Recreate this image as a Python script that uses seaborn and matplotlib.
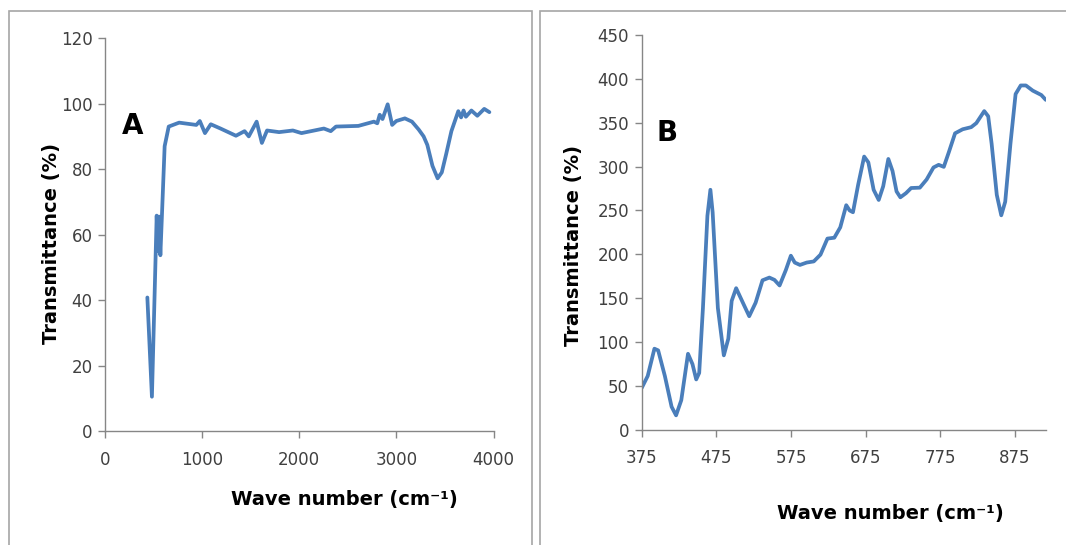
import numpy as np
import seaborn as sns
import matplotlib.pyplot as plt
from matplotlib.patches import Rectangle

# ---- panel A : full FTIR spectrum ----
wave_a = [436, 483, 532, 545, 557, 570, 585, 614, 656, 763, 940, 976, 1029, 1089, 1189,
          1348, 1437, 1480, 1561, 1615, 1668, 1792, 1934, 2023, 2253, 2324, 2378, 2608,
          2768, 2803, 2828, 2857, 2910, 2956, 2999, 3087, 3160, 3229, 3280, 3318, 3371,
          3424, 3467, 3513, 3566, 3609, 3637, 3666, 3691, 3715, 3772, 3833, 3904, 3957]
trans_a = [40.8, 10.5, 65.8, 55, 65.5, 53.7, 65, 87, 93, 94.2, 93.5, 94.7, 91, 93.7, 92.4,
           90.2, 91.6, 90, 94.5, 88, 91.8, 91.3, 91.8, 91, 92.4, 91.6, 93, 93.2,
           94.5, 94, 96.6, 95.3, 99.8, 93.5, 94.7, 95.5, 94.5, 92.1, 90, 87.4, 81,
           77.2, 79, 84.7, 91.6, 95.3, 97.7, 95.8, 97.9, 96, 97.9, 96.3, 98.4, 97.4]

# ---- panel B : low wave number region ----
wave_b = [375, 383, 392, 397, 406, 415, 421, 428, 437, 443, 448, 452, 457, 463, 467, 470,
          477, 485, 491, 495.5, 501.5, 511.6, 519, 527.6, 536.8, 546, 552.8, 559.7, 568,
          574.8, 580, 587, 596, 605.5, 614.5, 623.8, 633, 641, 649, 653.6, 658, 665, 673,
          678.6, 685.7, 692.5, 698.5, 705.4, 711, 716.4, 721.5, 729, 736, 747.6, 756.7,
          765.9, 772.8, 779.7, 786.5, 794.8, 805, 816.4, 823.3, 833.9, 839.2, 843.8,
          850.7, 856.7, 862, 869, 875.9, 882.8, 889.7, 898.9, 910.4, 916.3]
trans_b = [47.9, 61.5, 92.6, 90.7, 61.5, 26.5, 16.7, 34, 86.8, 75, 57.6, 65, 139, 244,
           273.6, 248, 139, 85, 104, 147, 161.5, 143, 129.6, 145, 170.5, 173.6, 171, 164.6,
           182, 198.5, 190.7, 188, 190.7, 192, 199.7, 218, 219, 230.8, 256, 250, 248, 279.5,
           311.4, 304.8, 273.6, 262, 277.5, 308.7, 295, 271.7, 265, 269.7, 275.6, 276, 285.3,
           299, 302, 299.7, 316.5, 337.9, 342.5, 344.9, 349.5, 363.2, 357.3, 326, 267.8,
           244.5, 260, 326, 382.6, 392.4, 392.4, 386.5, 381.5, 376]

ticks_a_x = [0, 1000, 2000, 3000, 4000]
ticks_a_y = [0, 20, 40, 60, 80, 100, 120]
ticks_b_x = [375, 475, 575, 675, 775, 875]
ticks_b_y = [0, 50, 100, 150, 200, 250, 300, 350, 400, 450]

line_col = '#4a7ebb'
axis_col = '#868686'
text_col = '#404040'

sns.set_style("ticks")
plt.rcParams['font.family'] = ['DejaVu Sans']

fig = plt.figure(figsize=(10.66, 5.45), dpi=100)
axA = fig.add_axes([0.0985, 0.209, 0.3645, 0.721])
axB = fig.add_axes([0.602, 0.211, 0.379, 0.725])

sns.lineplot(x=wave_a, y=trans_a, ax=axA, sort=False, estimator=None,
             color=line_col, linewidth=2.7)
sns.lineplot(x=wave_b, y=trans_b, ax=axB, sort=False, estimator=None,
             color=line_col, linewidth=2.7)

axA.set_xlim(0, 4000); axA.set_ylim(0, 120)
axA.set_xticks(ticks_a_x); axA.set_yticks(ticks_a_y)
axB.set_xlim(375, 916.3); axB.set_ylim(0, 450)
axB.set_xticks(ticks_b_x); axB.set_yticks(ticks_b_y)

for ax in (axA, axB):
    for s in ('top', 'right'):
        ax.spines[s].set_visible(False)
    for s in ('left', 'bottom'):
        ax.spines[s].set_color(axis_col)
        ax.spines[s].set_linewidth(1.0)
    ax.tick_params(direction='out', length=5, width=1, color=axis_col,
                   labelsize=12, labelcolor=text_col, pad=4)
    ax.tick_params(axis='x', pad=9)
    ax.set_xlabel(''); ax.set_ylabel('')
    for ln in ax.get_lines():
        ln.set_solid_joinstyle('round'); ln.set_solid_capstyle('round')

# axis titles
fig.text(51.6 / 1066, 1 - 243 / 545, 'Transmittance (%)', rotation=90, ha='center', va='center',
         fontsize=14, fontweight='bold', color='black')
fig.text(574 / 1066, 1 - 245 / 545, 'Transmittance (%)', rotation=90, ha='center', va='center',
         fontsize=14, fontweight='bold', color='black')
fig.text(344 / 1066, 1 - 499 / 545, 'Wave number (cm⁻¹)', ha='center', va='center',
         fontsize=14, fontweight='bold', color='black')
fig.text(890 / 1066, 1 - 513 / 545, 'Wave number (cm⁻¹)', ha='center', va='center',
         fontsize=14, fontweight='bold', color='black')

# panel letters
fig.text(132.6 / 1066, 1 - 125.7 / 545, 'A', ha='center', va='center',
         fontsize=20, fontweight='bold', color='black')
fig.text(666.7 / 1066, 1 - 133.3 / 545, 'B', ha='center', va='center',
         fontsize=20, fontweight='bold', color='black')

# panel frames
fig.patches.append(Rectangle((8.6 / 1066, -0.05), (531.5 - 8.6) / 1066, 1.05 - 11.4 / 545,
                             transform=fig.transFigure, fill=False, edgecolor='#a6a6a6', lw=1.2))
fig.patches.append(Rectangle((539.6 / 1066, -0.05), 0.6, 1.05 - 11.3 / 545,
                             transform=fig.transFigure, fill=False, edgecolor='#a6a6a6', lw=1.2))

fig.savefig('out.png', dpi=100, facecolor='white')
